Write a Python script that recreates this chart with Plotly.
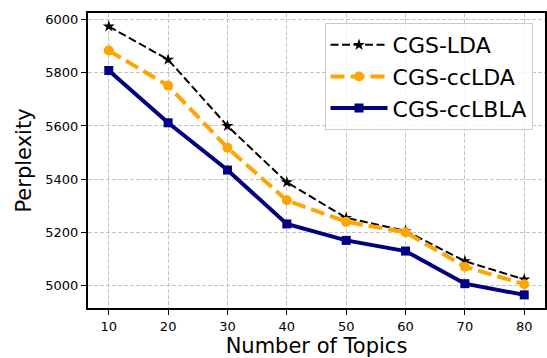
import plotly.graph_objects as go

topics = [10, 20, 30, 40, 50, 60, 70, 80]
cgs_lda = [5975, 5850, 5600, 5388, 5254, 5205, 5091, 5022]
cgs_cclda = [5884, 5752, 5518, 5320, 5239, 5200, 5070, 5004]
cgs_cclbla = [5809, 5612, 5434, 5231, 5169, 5129, 5006, 4964]
x_ticks = [10, 20, 30, 40, 50, 60, 70, 80]
y_ticks = [5000, 5200, 5400, 5600, 5800, 6000]

FONT = "DejaVu Sans"

fig = go.Figure()
fig.add_trace(go.Scatter(
    x=topics, y=cgs_lda, name="CGS-LDA", mode="lines+markers",
    line=dict(color="black", width=2, dash="8px,3.5px"),
    marker=dict(symbol="star", size=9, color="black"),
))
fig.add_trace(go.Scatter(
    x=topics, y=cgs_cclda, name="CGS-ccLDA", mode="lines+markers",
    line=dict(color="orange", width=4, dash="14px,6px"),
    marker=dict(symbol="circle", size=10, color="orange"),
))
fig.add_trace(go.Scatter(
    x=topics, y=cgs_cclbla, name="CGS-ccLBLA", mode="lines+markers",
    line=dict(color="navy", width=4),
    marker=dict(symbol="square", size=9, color="navy"),
))

axis_common = dict(
    showline=True, linecolor="black", linewidth=2, mirror=True,
    ticks="outside", ticklen=5, tickwidth=1.3, tickcolor="black",
    showgrid=True, gridcolor="#c4c4c4", gridwidth=1, griddash="4px,2px",
    zeroline=False,
    tickfont=dict(family=FONT, size=13, color="black"),
    title_font=dict(family=FONT, size=21, color="black"),
)

fig.update_xaxes(
    range=[6.5, 83.5], tickvals=x_ticks,
    title_text="Number of Topics", title_standoff=4,
    **axis_common,
)
fig.update_yaxes(
    range=[4914.5, 6025.5], tickvals=y_ticks,
    title_text="Perplexity", title_standoff=8,
    **axis_common,
)

fig.update_layout(
    width=547, height=358,
    margin=dict(l=88, r=1.5, t=13, b=50, autoexpand=False),
    plot_bgcolor="white", paper_bgcolor="white",
    font=dict(family=FONT, color="black"),
    legend=dict(
        x=0.9727, xanchor="right", y=0.966, yanchor="top",
        bgcolor="rgba(255,255,255,0.8)", bordercolor="#cccccc", borderwidth=1,
        font=dict(family=FONT, size=22, color="black"),
        itemwidth=57, traceorder="normal",
    ),
    showlegend=True,
)

fig.write_html("out.html")
